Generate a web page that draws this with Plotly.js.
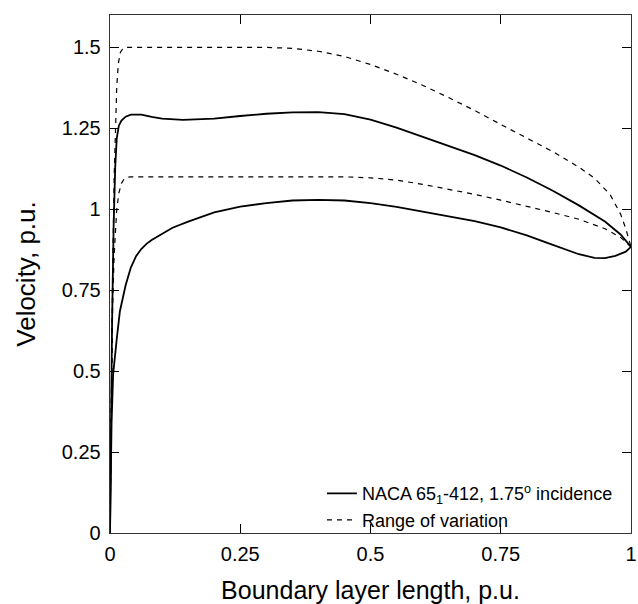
<!DOCTYPE html>
<html>
<head>
<meta charset="utf-8">
<script src="https://cdn.plot.ly/plotly-3.0.1.min.js"></script>
<style>html,body{margin:0;padding:0;background:#fff;}#chart{width:638px;height:604px;}</style>
</head>
<body>
<div id="chart"></div>
<script>
// Main curve (NACA 65_1-412, 1.75 deg incidence) - upper branch
const upperX = [0, 0.002, 0.004, 0.007, 0.01, 0.013, 0.017, 0.022, 0.03, 0.04, 0.05, 0.06, 0.08, 0.1, 0.14, 0.2, 0.25, 0.3, 0.35, 0.4, 0.45, 0.5, 0.55, 0.6, 0.65, 0.7, 0.75, 0.8, 0.85, 0.9, 0.95, 0.98, 1.0];
const upperY = [0, 0.35, 0.65, 0.95, 1.13, 1.22, 1.258, 1.274, 1.286, 1.292, 1.293, 1.292, 1.285, 1.28, 1.276, 1.28, 1.288, 1.295, 1.2995, 1.2997, 1.294, 1.277, 1.252, 1.223, 1.194, 1.167, 1.135, 1.098, 1.057, 1.012, 0.962, 0.922, 0.884];
// Main curve - lower branch
const lowerX = [0, 0.001, 0.003, 0.006, 0.01, 0.013, 0.019, 0.025, 0.03, 0.04, 0.05, 0.06, 0.07, 0.08, 0.1, 0.12, 0.15, 0.2, 0.25, 0.3, 0.35, 0.4, 0.45, 0.5, 0.55, 0.6, 0.65, 0.7, 0.75, 0.8, 0.85, 0.9, 0.93, 0.95, 0.97, 0.99, 1.0];
const lowerY = [0, 0.18, 0.34, 0.49, 0.56, 0.6, 0.685, 0.735, 0.765, 0.82, 0.855, 0.877, 0.893, 0.905, 0.925, 0.943, 0.962, 0.99, 1.008, 1.019, 1.027, 1.029, 1.027, 1.019, 1.007, 0.993, 0.979, 0.963, 0.944, 0.919, 0.89, 0.861, 0.85, 0.849, 0.856, 0.869, 0.884];
// Range of variation - upper limit
const rangeHiX = [0, 0.002, 0.005, 0.008, 0.01, 0.013, 0.016, 0.02, 0.025, 0.03, 0.1, 0.2, 0.3, 0.35, 0.4, 0.45, 0.5, 0.55, 0.6, 0.65, 0.7, 0.75, 0.8, 0.85, 0.9, 0.93, 0.96, 0.98, 0.99, 1.0];
const rangeHiY = [0, 0.35, 0.8, 1.1, 1.25, 1.38, 1.45, 1.485, 1.497, 1.5, 1.5, 1.5, 1.5, 1.497, 1.488, 1.472, 1.447, 1.417, 1.383, 1.345, 1.305, 1.262, 1.22, 1.178, 1.13, 1.096, 1.045, 0.985, 0.94, 0.884];
// Range of variation - lower limit
const rangeLoX = [0, 0.002, 0.005, 0.008, 0.01, 0.013, 0.017, 0.022, 0.027, 0.033, 0.04, 0.1, 0.2, 0.3, 0.4, 0.45, 0.5, 0.55, 0.6, 0.65, 0.7, 0.75, 0.8, 0.85, 0.9, 0.95, 0.98, 1.0];
const rangeLoY = [0, 0.35, 0.7, 0.86, 0.93, 1.0, 1.05, 1.08, 1.093, 1.099, 1.1, 1.1, 1.1, 1.1, 1.1, 1.1, 1.097, 1.09, 1.077, 1.062, 1.046, 1.028, 1.01, 0.99, 0.969, 0.94, 0.913, 0.884];

const xTicks = [0, 0.25, 0.5, 0.75, 1];
const xTickText = ['0', '0.25', '0.5', '0.75', '1'];
const yTicks = [0, 0.25, 0.5, 0.75, 1, 1.25, 1.5];
const yTickText = ['0', '0.25', '0.5', '0.75', '1', '1.25', '1.5'];

const solid = {color: '#000', width: 1.8, dash: 'solid'};
const dashed = {color: '#000', width: 1.2, dash: '5px,5px'};

const traces = [
  {x: upperX, y: upperY, mode: 'lines', line: solid, name: 'NACA 65<sub>1</sub>-412, 1.75<sup>o</sup> incidence', legendgroup: 'a', showlegend: true},
  {x: lowerX, y: lowerY, mode: 'lines', line: solid, legendgroup: 'a', showlegend: false},
  {x: rangeHiX, y: rangeHiY, mode: 'lines', line: dashed, name: 'Range of variation', legendgroup: 'b', showlegend: true},
  {x: rangeLoX, y: rangeLoY, mode: 'lines', line: dashed, legendgroup: 'b', showlegend: false}
];

const font = 'Liberation Sans, Arial, sans-serif';
const layout = {
  width: 638, height: 604,
  margin: {l: 110, r: 7, t: 15, b: 71},
  paper_bgcolor: '#fff', plot_bgcolor: '#fff',
  font: {family: font, color: '#000'},
  showlegend: true,
  legend: {x: 0.975, y: -0.01, xanchor: 'right', yanchor: 'bottom', bgcolor: 'rgba(0,0,0,0)',
           font: {family: font, size: 18, color: '#000'}, tracegroupgap: 0},
  xaxis: {range: [0, 1], tickvals: xTicks, ticktext: xTickText, ticks: 'inside', ticklen: 9,
          tickcolor: '#000', showline: true, linecolor: '#333', linewidth: 1.3, mirror: 'ticks',
          showgrid: false, zeroline: false, tickfont: {size: 20, family: font}, ticklabelstandoff: 3,
          title: {text: 'Boundary layer length, p.u.', font: {size: 25, family: font}, standoff: 20}},
  yaxis: {range: [0, 1.6], tickvals: yTicks, ticktext: yTickText, ticks: 'inside', ticklen: 9,
          tickcolor: '#000', showline: true, linecolor: '#333', linewidth: 1.3, mirror: 'ticks',
          showgrid: false, zeroline: false, tickfont: {size: 20, family: font}, ticklabelstandoff: 4,
          title: {text: 'Velocity, p.u.', font: {size: 26, family: font}, standoff: 18}}
};

Plotly.newPlot('chart', traces, layout, {displayModeBar: false, staticPlot: true});
</script>
</body>
</html>
